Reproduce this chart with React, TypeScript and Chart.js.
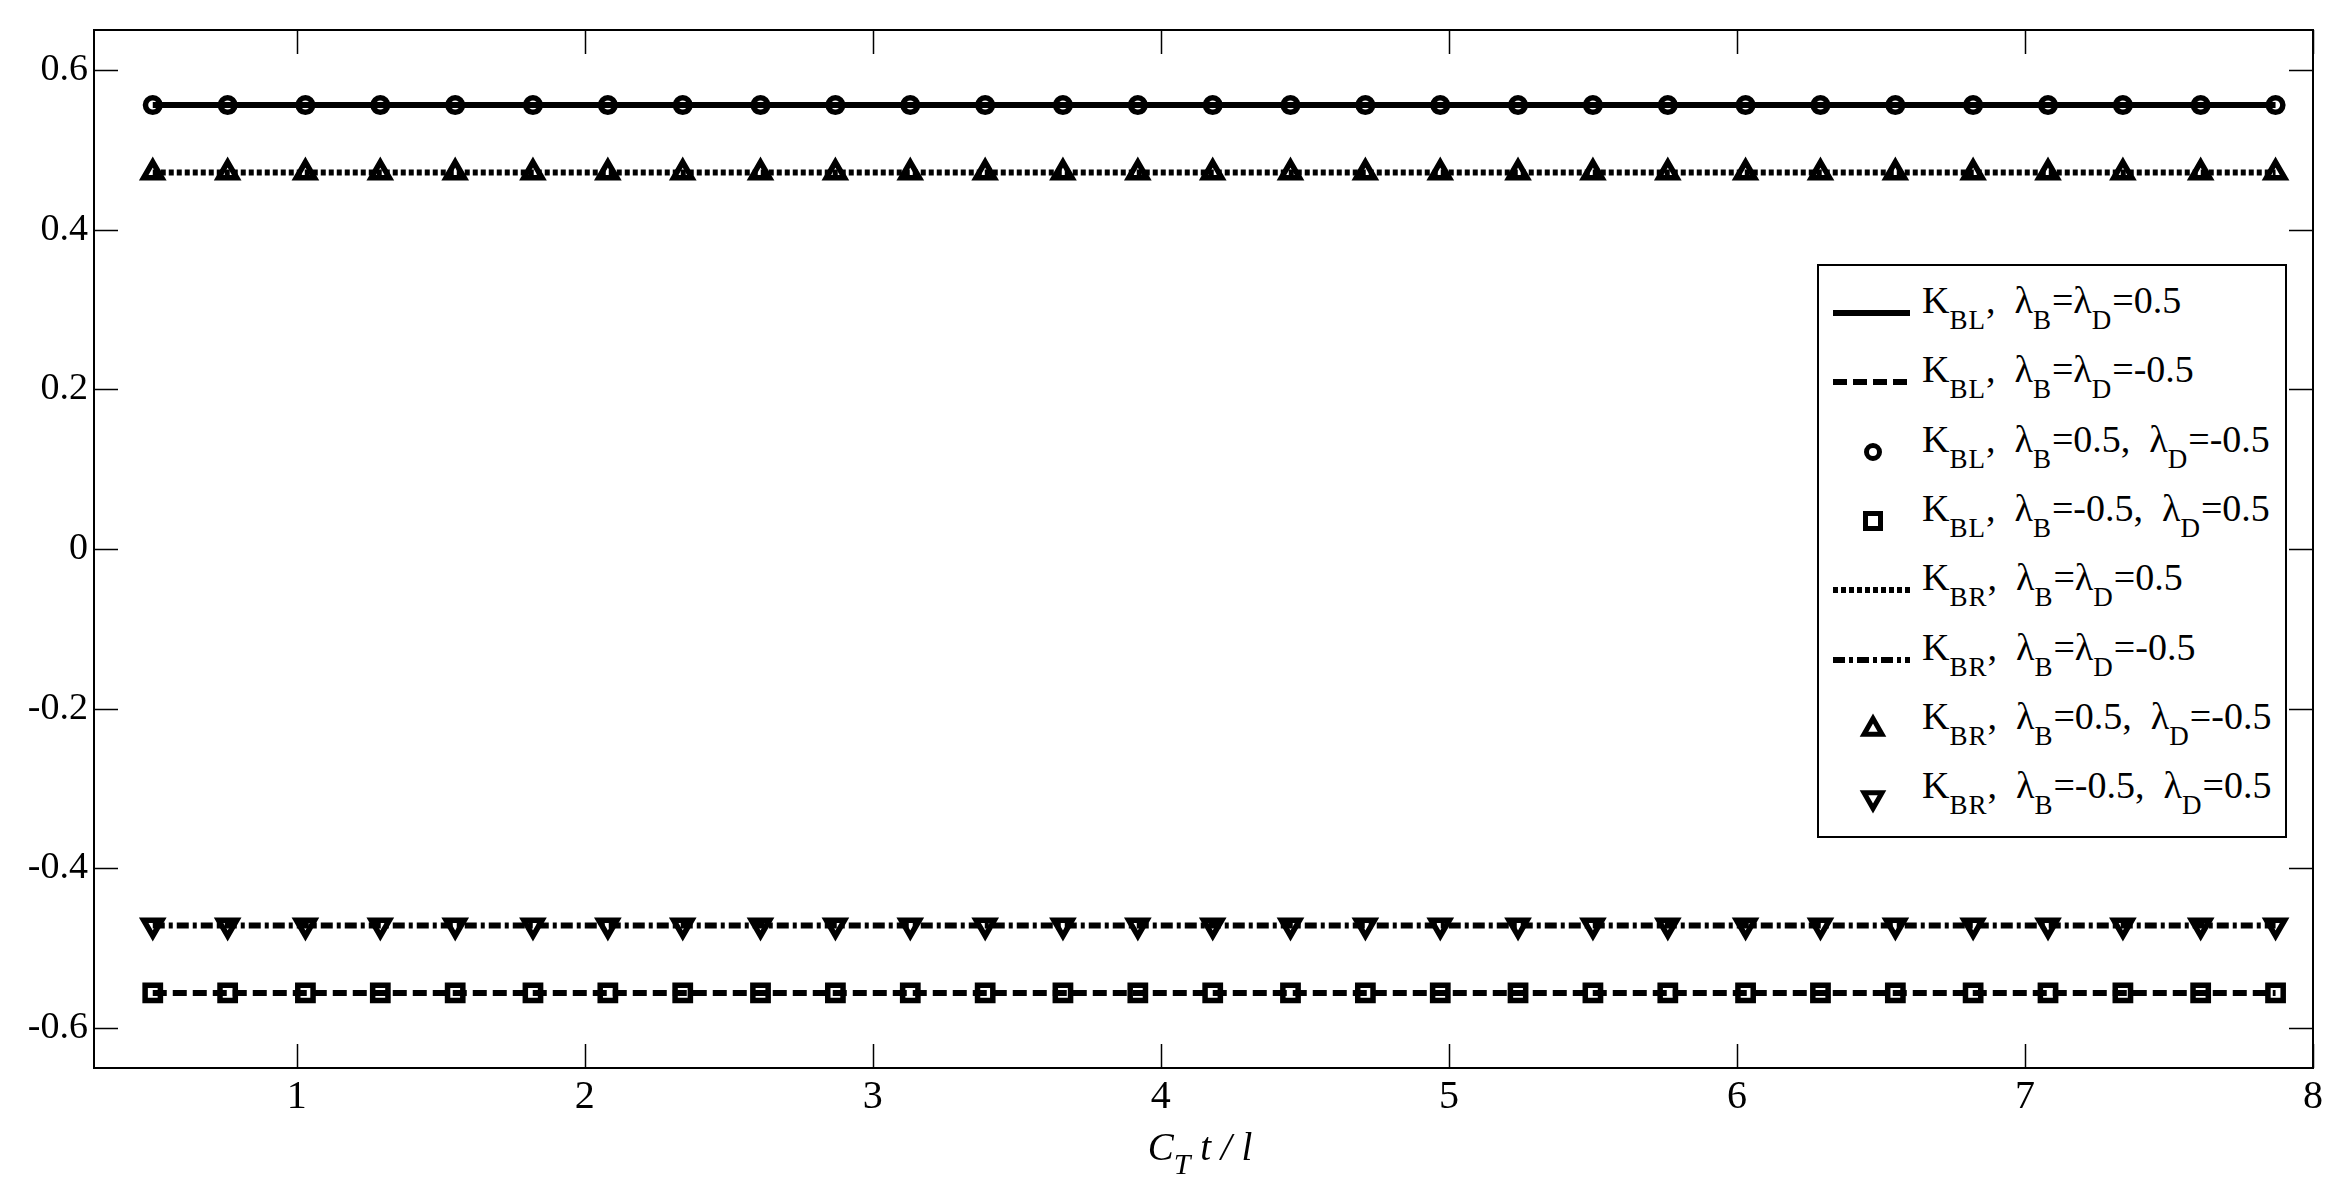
import React, { useEffect, useRef } from 'react';
import { Chart, registerables } from 'chart.js';

Chart.register(...registerables);

// ---------- data ----------
const X_VALUES = [
  0.50, 0.76, 1.03, 1.29, 1.55, 1.82, 2.08, 2.34, 2.61, 2.87,
  3.13, 3.39, 3.66, 3.92, 4.18, 4.45, 4.71, 4.97, 5.24, 5.50,
  5.76, 6.03, 6.29, 6.55, 6.82, 7.08, 7.34, 7.61, 7.87,
];

// K_BL, λB=λD=0.5 (solid line)
const KBL_EQ_POS = [
  0.556, 0.556, 0.556, 0.556, 0.556, 0.556, 0.556, 0.556, 0.556, 0.556,
  0.556, 0.556, 0.556, 0.556, 0.556, 0.556, 0.556, 0.556, 0.556, 0.556,
  0.556, 0.556, 0.556, 0.556, 0.556, 0.556, 0.556, 0.556, 0.556,
];
// K_BL, λB=λD=-0.5 (dashed line)
const KBL_EQ_NEG = [
  -0.556, -0.556, -0.556, -0.556, -0.556, -0.556, -0.556, -0.556, -0.556, -0.556,
  -0.556, -0.556, -0.556, -0.556, -0.556, -0.556, -0.556, -0.556, -0.556, -0.556,
  -0.556, -0.556, -0.556, -0.556, -0.556, -0.556, -0.556, -0.556, -0.556,
];
// K_BL, λB=0.5, λD=-0.5 (circles)
const KBL_MIX_PN = [
  0.556, 0.556, 0.556, 0.556, 0.556, 0.556, 0.556, 0.556, 0.556, 0.556,
  0.556, 0.556, 0.556, 0.556, 0.556, 0.556, 0.556, 0.556, 0.556, 0.556,
  0.556, 0.556, 0.556, 0.556, 0.556, 0.556, 0.556, 0.556, 0.556,
];
// K_BL, λB=-0.5, λD=0.5 (squares)
const KBL_MIX_NP = [
  -0.556, -0.556, -0.556, -0.556, -0.556, -0.556, -0.556, -0.556, -0.556, -0.556,
  -0.556, -0.556, -0.556, -0.556, -0.556, -0.556, -0.556, -0.556, -0.556, -0.556,
  -0.556, -0.556, -0.556, -0.556, -0.556, -0.556, -0.556, -0.556, -0.556,
];
// K_BR, λB=λD=0.5 (dotted line)
const KBR_EQ_POS = [
  0.4715, 0.4715, 0.4715, 0.4715, 0.4715, 0.4715, 0.4715, 0.4715, 0.4715, 0.4715,
  0.4715, 0.4715, 0.4715, 0.4715, 0.4715, 0.4715, 0.4715, 0.4715, 0.4715, 0.4715,
  0.4715, 0.4715, 0.4715, 0.4715, 0.4715, 0.4715, 0.4715, 0.4715, 0.4715,
];
// K_BR, λB=λD=-0.5 (dash-dot line)
const KBR_EQ_NEG = [
  -0.4715, -0.4715, -0.4715, -0.4715, -0.4715, -0.4715, -0.4715, -0.4715, -0.4715, -0.4715,
  -0.4715, -0.4715, -0.4715, -0.4715, -0.4715, -0.4715, -0.4715, -0.4715, -0.4715, -0.4715,
  -0.4715, -0.4715, -0.4715, -0.4715, -0.4715, -0.4715, -0.4715, -0.4715, -0.4715,
];
// K_BR, λB=0.5, λD=-0.5 (up triangles)
const KBR_MIX_PN = [
  0.4715, 0.4715, 0.4715, 0.4715, 0.4715, 0.4715, 0.4715, 0.4715, 0.4715, 0.4715,
  0.4715, 0.4715, 0.4715, 0.4715, 0.4715, 0.4715, 0.4715, 0.4715, 0.4715, 0.4715,
  0.4715, 0.4715, 0.4715, 0.4715, 0.4715, 0.4715, 0.4715, 0.4715, 0.4715,
];
// K_BR, λB=-0.5, λD=0.5 (down triangles)
const KBR_MIX_NP = [
  -0.4715, -0.4715, -0.4715, -0.4715, -0.4715, -0.4715, -0.4715, -0.4715, -0.4715, -0.4715,
  -0.4715, -0.4715, -0.4715, -0.4715, -0.4715, -0.4715, -0.4715, -0.4715, -0.4715, -0.4715,
  -0.4715, -0.4715, -0.4715, -0.4715, -0.4715, -0.4715, -0.4715, -0.4715, -0.4715,
];

const SERIES_LABELS = [
  'K_{BL},  λ_{B}=λ_{D}=0.5',
  'K_{BL},  λ_{B}=λ_{D}=-0.5',
  'K_{BL},  λ_{B}=0.5,  λ_{D}=-0.5',
  'K_{BL},  λ_{B}=-0.5,  λ_{D}=0.5',
  'K_{BR},  λ_{B}=λ_{D}=0.5',
  'K_{BR},  λ_{B}=λ_{D}=-0.5',
  'K_{BR},  λ_{B}=0.5,  λ_{D}=-0.5',
  'K_{BR},  λ_{B}=-0.5,  λ_{D}=0.5',
];
const SERIES_VALUES = [
  KBL_EQ_POS, KBL_EQ_NEG, KBL_MIX_PN, KBL_MIX_NP,
  KBR_EQ_POS, KBR_EQ_NEG, KBR_MIX_PN, KBR_MIX_NP,
];

const X_TICKS = [1, 2, 3, 4, 5, 6, 7, 8];
const Y_TICKS = [-0.6, -0.4, -0.2, 0, 0.2, 0.4, 0.6];
const X_MIN = 0.296;
const X_MAX = 8;
const Y_MIN = -0.65;
const Y_MAX = 0.65;
const X_TITLE = 'C_{T} t / l';

// ---------- styles ----------
type Kind = 'solid' | 'dashed' | 'circle' | 'rect' | 'dotted' | 'dashdot' | 'tri' | 'triDown';
const SERIES_KINDS: Kind[] = ['solid', 'dashed', 'circle', 'rect', 'dotted', 'dashdot', 'tri', 'triDown'];
const DASHES: Record<string, number[]> = {
  solid: [],
  dashed: [14, 6],
  dotted: [5, 3],
  dashdot: [12, 4, 4, 4],
};

const W = 2351;
const H = 1188;
const FONT = "'Liberation Serif', 'Times New Roman', serif";

const framePlugin = {
  id: 'matlabFrame',
  afterDatasetsDraw(chart: any) {
    const { ctx, chartArea: a, scales } = chart;
    ctx.save();
    ctx.strokeStyle = '#000';
    ctx.lineWidth = 1.5;
    ctx.beginPath();
    for (const v of X_TICKS) {
      const px = Math.round(scales.x.getPixelForValue(v)) + 0.5;
      ctx.moveTo(px, a.bottom);
      ctx.lineTo(px, a.bottom - 24);
      ctx.moveTo(px, a.top);
      ctx.lineTo(px, a.top + 24);
    }
    for (const v of Y_TICKS) {
      const py = Math.round(scales.y.getPixelForValue(v)) + 0.5;
      ctx.moveTo(a.left, py);
      ctx.lineTo(a.left + 24, py);
      ctx.moveTo(a.right, py);
      ctx.lineTo(a.right - 24, py);
    }
    ctx.stroke();
    ctx.lineWidth = 2;
    ctx.strokeRect(a.left, a.top, a.right - a.left, a.bottom - a.top);
    ctx.restore();
  },
};

function buildDatasets() {
  return SERIES_VALUES.map((vals, i) => {
    const kind = SERIES_KINDS[i];
    const data = X_VALUES.map((x, j) => ({ x, y: vals[j] }));
    const isLine = kind in DASHES;
    if (isLine) {
      return {
        label: SERIES_LABELS[i],
        data,
        showLine: true,
        borderColor: '#000',
        borderWidth: 6,
        borderDash: DASHES[kind],
        pointRadius: 0,
        fill: false,
        order: 2,
      };
    }
    const style = kind === 'circle' ? 'circle' : kind === 'rect' ? 'rect' : 'triangle';
    const radius = kind === 'circle' ? 7.3 : kind === 'rect' ? 10.8 : 10.5;
    return {
      label: SERIES_LABELS[i],
      data,
      showLine: false,
      borderColor: '#000',
      backgroundColor: 'rgba(0,0,0,0)',
      pointStyle: style,
      pointRotation: kind === 'triDown' ? 180 : 0,
      pointRadius: radius,
      pointBorderWidth: 5.5,
      pointBorderColor: '#000',
      pointBackgroundColor: 'rgba(0,0,0,0)',
      order: 1,
    };
  });
}

function RichText({ text, size, subSize, subShift, italic, subSpacing }: { text: string; size: number; subSize: number; subShift: number; italic?: boolean; subSpacing?: number }) {
  const parts = text.split(/_\{([^}]*)\}/);
  return (
    <span style={{ fontSize: size, fontStyle: italic ? 'italic' : 'normal', whiteSpace: 'pre' }}>
      {parts.map((p, i) =>
        i % 2 === 1 ? (
          <span key={i} style={{ fontSize: subSize, position: 'relative', top: subShift, letterSpacing: subSpacing || 0 }}>{p}</span>
        ) : (
          <span key={i}>{p}</span>
        )
      )}
    </span>
  );
}

function LegendSymbol({ kind }: { kind: Kind }) {
  const cx = 40;
  const cy = 15;
  let content: any = null;
  if (kind in DASHES) {
    content = (
      <line x1={0} y1={cy} x2={77} y2={cy} stroke="#000" strokeWidth={6}
        strokeDasharray={DASHES[kind].length ? DASHES[kind].join(' ') : undefined} />
    );
  } else if (kind === 'circle') {
    content = <circle cx={cx} cy={cy} r={6.5} fill="none" stroke="#000" strokeWidth={5} />;
  } else if (kind === 'rect') {
    content = <rect x={cx - 7.5} y={cy - 7.5} width={15} height={15} fill="none" stroke="#000" strokeWidth={5} />;
  } else if (kind === 'tri') {
    content = (
      <polygon points={`${cx},${cy - 10.5} ${cx + 9},${cy + 5.3} ${cx - 9},${cy + 5.3}`}
        fill="none" stroke="#000" strokeWidth={5} strokeLinejoin="miter" />
    );
  } else {
    content = (
      <polygon points={`${cx},${cy + 10.5} ${cx + 9},${cy - 5.3} ${cx - 9},${cy - 5.3}`}
        fill="none" stroke="#000" strokeWidth={5} strokeLinejoin="miter" />
    );
  }
  return (
    <svg width={80} height={30} style={{ position: 'absolute', overflow: 'visible' }}>
      {content}
    </svg>
  );
}

export default function App() {
  const canvasRef = useRef<HTMLCanvasElement | null>(null);

  useEffect(() => {
    const canvas = canvasRef.current;
    if (!canvas) return;
    const chart = new Chart(canvas, {
      type: 'scatter',
      data: { datasets: buildDatasets() as any },
      options: {
        animation: false,
        responsive: false,
        events: [],
        layout: { padding: { top: 30, right: 38, left: 0, bottom: 0 } },
        plugins: {
          legend: { display: false },
          tooltip: { enabled: false },
        },
        scales: {
          x: {
            type: 'linear',
            min: X_MIN,
            max: X_MAX,
            afterBuildTicks: (s: any) => { s.ticks = X_TICKS.map((v) => ({ value: v })); },
            afterFit: (s: any) => { s.height = 120; },
            grid: { display: false, drawTicks: false },
            border: { display: false },
            ticks: {
              color: '#000',
              font: { family: FONT, size: 40 },
              padding: 5,
              maxRotation: 0,
              autoSkip: false,
              callback: (v: any) => String(v),
            },
          },
          y: {
            type: 'linear',
            min: Y_MIN,
            max: Y_MAX,
            afterBuildTicks: (s: any) => { s.ticks = Y_TICKS.map((v) => ({ value: v })); },
            afterFit: (s: any) => { s.width = 94; },
            grid: { display: false, drawTicks: false },
            border: { display: false },
            ticks: {
              color: '#000',
              font: { family: FONT, size: 38 },
              padding: 6,
              autoSkip: false,
              callback: (v: any) => String(v),
            },
          },
        },
      } as any,
      plugins: [framePlugin],
    });
    return () => chart.destroy();
  }, []);

  const legendLeft = 1817;
  const legendTop = 264;
  const legendW = 470;
  const legendH = 574;
  const rowY0 = 313;
  const rowStep = 69.3;
  const mainSize = 38;
  const baseOff = 20 + 0.3375 * mainSize;

  return (
    <div style={{ position: 'fixed', left: 0, top: 0, width: W, height: H, background: '#fff', fontFamily: FONT, color: '#000' }}>
      <canvas ref={canvasRef} width={W} height={H} style={{ position: 'absolute', left: 0, top: 0, width: W, height: H }} />
      <div style={{
        position: 'absolute', left: legendLeft, top: legendTop, width: legendW, height: legendH,
        background: '#fff', border: '2px solid #000', boxSizing: 'border-box',
      }}>
        {SERIES_LABELS.map((lab, i) => {
          const y = rowY0 + rowStep * i - legendTop;
          return (
            <React.Fragment key={i}>
              <div style={{ position: 'absolute', left: 1833 - legendLeft - 2, top: y - 15 - 2 }}>
                <LegendSymbol kind={SERIES_KINDS[i]} />
              </div>
              <div style={{ position: 'absolute', left: 1922 - legendLeft - 2, top: y - baseOff - 2, lineHeight: '40px', height: 40 }}>
                <RichText text={lab} size={mainSize} subSize={27} subShift={16} subSpacing={1} />
              </div>
            </React.Fragment>
          );
        })}
      </div>
      <div style={{ position: 'absolute', left: 1200 - 200, width: 400, textAlign: 'center', top: 1160 - 20 - 0.3375 * 39, lineHeight: '40px', height: 40 }}>
        <RichText text={X_TITLE} size={39} subSize={30} subShift={14} italic />
      </div>
    </div>
  );
}
